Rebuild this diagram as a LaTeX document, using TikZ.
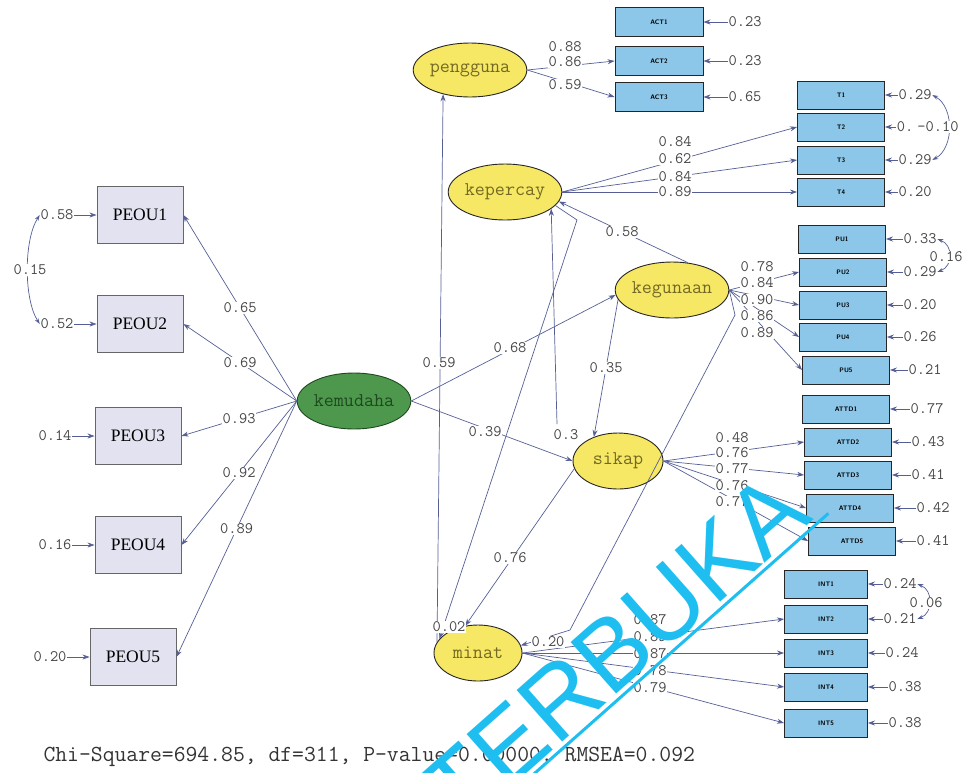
\documentclass[tikz,border=0pt]{standalone}
\usepackage{fontspec}
\usepackage{tikz}
\usetikzlibrary{shapes.geometric,arrows.meta}
\newfontfamily\peoufont{Liberation Serif}
\newfontfamily\wmfont{Liberation Sans}
\definecolor{latfill}{RGB}{246,231,100}
\definecolor{lattext}{RGB}{115,105,35}
\definecolor{kemfill}{RGB}{78,152,78}
\definecolor{kemtext}{RGB}{30,72,30}
\definecolor{obsfill}{RGB}{140,198,232}
\definecolor{peoufill}{RGB}{226,226,240}
\definecolor{pathcol}{RGB}{85,95,150}
\definecolor{labtext}{RGB}{70,70,70}
\definecolor{wmcol}{RGB}{30,190,240}
\tikzset{%
  latent/.style = {shape=ellipse, draw=black!85, line width=0.9pt, fill=latfill,%
                   text=lattext, minimum width=90pt, minimum height=56pt, inner sep=0pt,%
                   font=\ttfamily\fontsize{19.5}{19.5}\selectfont},%
  exo/.style    = {latent, fill=kemfill, text=kemtext, draw=kemtext},%
  indic/.style  = {shape=rectangle, draw=black!85, line width=0.9pt, fill=obsfill,%
                   minimum width=87pt, minimum height=28pt, inner sep=0pt,%
                   font=\sffamily\bfseries\fontsize{6.5}{6.5}\selectfont},%
  peou/.style   = {shape=rectangle, draw=black!60, line width=0.9pt, fill=peoufill,%
                   minimum width=86pt, minimum height=57pt,%
                   font=\peoufont\fontsize{17.5}{17.5}\selectfont},%
  est/.style    = {font=\ttfamily\fontsize{16}{16}\selectfont\addfontfeature{LetterSpace=8},%
                   text=labtext, fill=white, inner sep=0.6pt},%
  err/.style    = {est, fill=none},%
  arr/.style    = {draw=pathcol, line width=0.7pt, arrows={-Stealth[length=7pt,width=5pt]}},%
  cov/.style    = {draw=pathcol, line width=0.7pt,%
                   arrows={Stealth[length=6pt,width=4pt]-Stealth[length=6pt,width=4pt]}}%
}
\begin{document}
\begin{tikzpicture}[x=1pt,y=-1pt]
  \useasboundingbox (0,0) rectangle (973,772);
  \clip (0,0) rectangle (973,772);
  % latent variables
  \node[exo] (kem) at (354,401) {kemudaha};
  \node[latent, minimum width=94pt, minimum height=54pt] (pen) at (470,70) {pengguna};
  \node[latent] (kep) at (505,192) {kepercay};
  \node[latent, minimum width=88pt] (keg) at (672,290) {kegunaan};
  \node[latent] (sik) at (618,461) {sikap};
  \node[latent, minimum width=88pt] (min) at (478,653) {minat};
  % indicators with error terms
  \foreach \n/\x/\y/\ex/\e in {1/140/215/57/0.58, 2/140/324/57/0.52, 3/138/436/55/0.14,
                               4/138/545/55/0.16, 5/133/657/50/0.20} {
    \node[peou] (P\n) at (\x,\y) {PEOU\n};
    \node[err] (eP\n) at (\ex,\y) {\e};
    \draw[arr] (eP\n) -- (P\n);
  }
  \foreach \n/\y/\e in {1/22/0.23, 2/61/0.23, 3/97/0.65} {
    \node[indic, minimum width=88pt, minimum height=29pt] (A\n) at (659,\y) {ACT\n};
    \node[err] (eA\n) at (745,\y) {\e};
    \draw[arr] (eA\n) -- (A\n);
  }
  \foreach \n/\y/\ex/\e in {1/95/915/0.29, 2/127/905/0., 3/160/915/0.29, 4/192/915/0.20} {
    \node[indic] (T\n) at (841,\y) {T\n};
    \node[err] (eT\n) at (\ex,\y) {\e};
    \draw[arr] (eT\n) -- (T\n);
  }
  \foreach \n/\x/\y/\ex/\e in {1/842/239/920/0.33, 2/843/272/920/0.29, 3/843/305/920/0.20,
                               4/843/337/920/0.26, 5/846/370/925/0.21} {
    \node[indic] (PU\n) at (\x,\y) {PU\n};
    \node[err] (ePU\n) at (\ex,\y) {\e};
    \draw[arr] (ePU\n) -- (PU\n);
  }
  \foreach \n/\x/\y/\ex/\e in {1/846/409/927/0.77, 2/848/442/928/0.43, 3/848/475/928/0.41,
                               4/850/508/933/0.42, 5/852/541/933/0.41} {
    \node[indic] (AT\n) at (\x,\y) {ATTD\n};
    \node[err] (eAT\n) at (\ex,\y) {\e};
    \draw[arr] (eAT\n) -- (AT\n);
  }
  \foreach \n/\y/\ex/\e in {1/584/900/0.24, 2/619/900/0.21, 3/653/902/0.24,
                            4/687/905/0.38, 5/723/905/0.38} {
    \node[indic, minimum width=83pt] (I\n) at (826,\y) {INT\n};
    \node[err] (eI\n) at (\ex,\y) {\e};
    \draw[arr] (eI\n) -- (I\n);
  }
  % error covariances
  \draw[cov] (eP1.west) .. controls +(-16,25) and +(-16,-25) .. (eP2.west);
  \draw[cov] (eT1.east) .. controls +(22,12) and +(22,-12) .. (eT3.east);
  \draw[cov] (ePU1.east) .. controls +(16,6) and +(16,-6) .. (ePU2.east);
  \draw[cov] (eI1.east) .. controls +(16,6) and +(16,-6) .. (eI2.east);
  % loadings
  \foreach \n in {1,...,5} \draw[arr] (kem.west) -- (P\n.east);
  \foreach \n in {2,3} \draw[arr] (pen.east) -- (A\n.west);
  \foreach \n in {2,3,4} \draw[arr] (kep.east) -- (T\n.west);
  \foreach \n in {2,...,5} \draw[arr] (keg.east) -- (PU\n.west);
  \foreach \n in {2,...,5} \draw[arr] (sik.east) -- (AT\n.west);
  \foreach \n in {2,...,5} \draw[arr] (min.east) -- (I\n.west);
  % structural paths
  \coordinate (k02) at (577,220);
  \coordinate (k3)  at (557,424);
  \coordinate (k20a) at (735,315);
  \coordinate (k20b) at (570,630);
  \draw[arr] (kem.east) -- (keg.185);
  \draw[arr] (kem.east) -- (sik.west);
  \draw[arr] (keg.190) -- (sik.135);
  \draw[arr] (keg.60) -- (kep.350);
  \draw[arr] (k3) -- (kep.340);
  \draw[arr] (kep.345) -- (k02) -- (min.160);
  \draw[arr] (sik.190) -- (min.115);
  \draw[arr] (keg.east) -- (k20a) -- (k20b) -- (min.10);
  \draw[arr] (min.165) -- (pen.222);
  % estimates
  \node[est] (c15) at (30,270) {0.15};
  \node[est] (c10) at (938,127) {-0.10};
  \node[est] (c16) at (946,257) {0.16};
  \node[est] (c06) at (926,603) {0.06};
  \foreach \v [count=\i] in {0.65,0.69,0.93,0.92,0.89} {
    \path (kem.west) -- (P\i.east) node[est, pos=0.5] (lP\i) {\v};
  }
  \node[est] (lA1) at (565,47) {0.88};
  \node[est] (lA2) at (565,62) {0.86};
  \node[est] (lA3) at (565,85) {0.59};
  \foreach \v/\y [count=\i] in {0.84/142, 0.62/159, 0.84/177, 0.89/192}
    \node[est] (lT\i) at (675,\y) {\v};
  \foreach \v/\y [count=\i] in {0.78/267, 0.84/283, 0.90/300, 0.86/316, 0.89/333}
    \node[est] (lPU\i) at (757,\y) {\v};
  \foreach \v/\y [count=\i] in {0.48/438, 0.76/453, 0.77/469, 0.76/486, 0.77/502}
    \node[est] (lAT\i) at (732,\y) {\v};
  \foreach \v/\y [count=\i] in {0.87/620, 0.89/637, 0.87/654, 0.78/671, 0.79/688}
    \node[est] (lI\i) at (650,\y) {\v};
  \node[est] (s68) at (510,348) {0.68};
  \node[est] (s39) at (485,432) {0.39};
  \node[est] (s35) at (606,368) {0.35};
  \node[est] (s3)  at (566,435) {0.3};
  \node[est] (s58) at (622,232) {0.58};
  \node[est] (s59) at (439,363) {0.59};
  \node[est] (s76) at (510,558) {0.76};
  \node[est] (s02) at (449,627) {0.02};
  \node[est] (s20) at (548,642) {0.20};
  % fit statistics
  \node[anchor=west, text=black!80, font=\ttfamily\fontsize{23}{23}\selectfont] (gof) at (40,757)
    {Chi-Square=694.85, df=311, P-value=0.00000, RMSEA=0.092};
  % watermark
  \node[rotate=41.5, text=wmcol, inner sep=4pt, font=\wmfont\fontsize{100}{100}\selectfont] (wm) at (615,650) {TERBUKA};
  \draw[wmcol, line width=3pt, shorten <=-60pt, shorten >=-10pt] (wm.south west) -- (wm.south east);
\end{tikzpicture}
\end{document}
